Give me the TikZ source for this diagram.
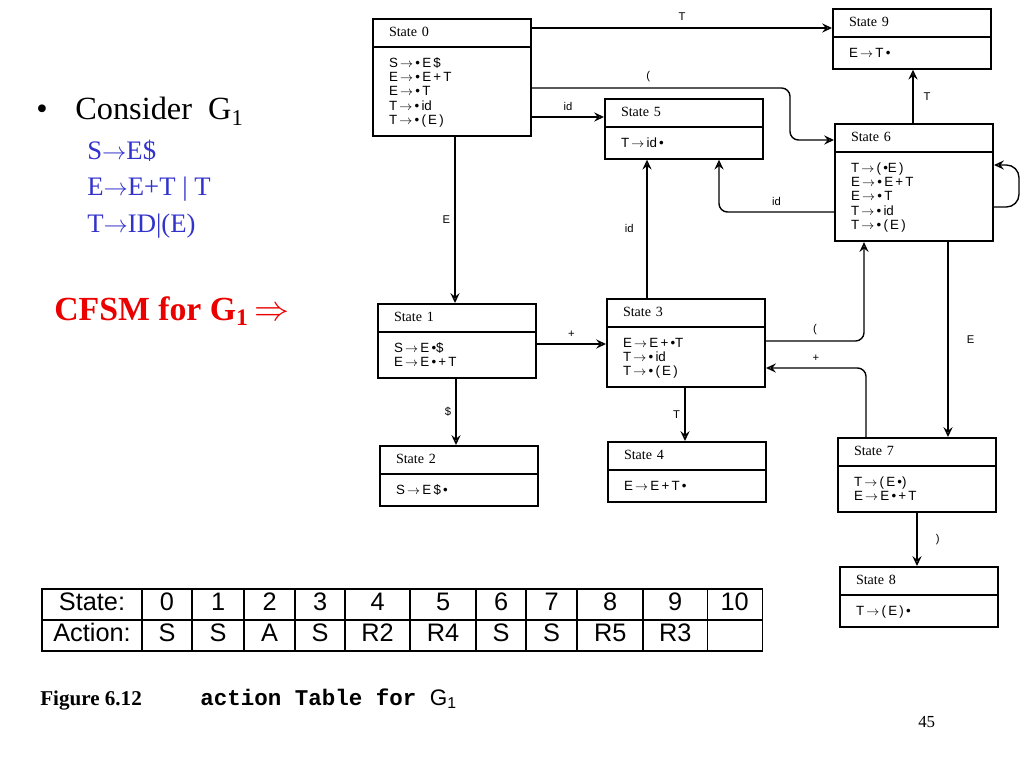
\documentclass[tikz,border=0pt]{standalone}
\usepackage{fontspec}
\setmainfont{Liberation Serif}
\setsansfont{Liberation Sans}
\setmonofont{Liberation Mono}
\usepackage{array}
\usetikzlibrary{shapes.multipart, arrows.meta}
\definecolor{gramblue}{RGB}{51,51,204}
\definecolor{cfsmred}{RGB}{235,0,0}
\newcommand{\itemfont}{\sffamily\fontsize{9.5}{10.2}\selectfont\lineskiplimit=-\maxdimen}
\newcommand{\yields}{\,$\rightarrow$\,}
\newcommand{\dotmark}{\textbullet}
\newcommand{\sthead}[1]{\rule[-2pt]{0pt}{8pt}State #1}
\newcommand{\stitems}[1]{\itemfont\rule{0pt}{8.5pt}#1\rule[-2.5pt]{0pt}{2.5pt}\par}
\newcolumntype{C}[1]{>{\centering\arraybackslash}p{#1}}
\renewcommand{\arraystretch}{1}
\setlength{\tabcolsep}{0pt}
\setlength{\arrayrulewidth}{1pt}
\tikzset{
        state/.style={rectangle split, rectangle split parts=2, draw=black, line width=0.5mm,
          text width=3.15cm, inner xsep=0.4cm, inner ysep=5pt, align=left, anchor=north west,
          font=\rmfamily\fontsize{10}{12}\selectfont},
        conn/.style={line width=0.35mm, -{Stealth[open,length=7pt,width=6.5pt,inset=2.5pt]}},
        lbl/.style={font=\sffamily\fontsize{8}{10}\selectfont, inner sep=1pt},
        gram/.style={text=gramblue, anchor=base west, inner sep=0pt, font=\rmfamily\fontsize{19}{22}\selectfont},
        plain/.style={anchor=base west, inner sep=0pt}
          }
\begin{document}
\begin{tikzpicture}[x=0.025cm, y=-0.025cm]
        \useasboundingbox (0,0) rectangle (1024,768);
        % left column text
        \node[plain, font=\rmfamily\fontsize{23}{26}\selectfont] (bul) at (36,120) {\textbullet};
        \node[plain, font=\rmfamily\fontsize{23}{26}\selectfont] (consider) at (75,120) {Consider~~G\textsubscript{1}};
        \node[gram] (g1) at (87,159) {S$\rightarrow$E\$};
        \node[gram] (g2) at (87,195) {E$\rightarrow$E+T | T};
        \node[gram] (g3) at (87,232) {T$\rightarrow$ID|(E)};
        \node[plain, text=cfsmred, font=\rmfamily\bfseries\fontsize{24}{28}\selectfont] (cfsm) at (54,320)
          {CFSM for G\textsubscript{1}\,$\Rightarrow$};

        % the states
        \node[state] (state0) at (372,18) {\sthead{0}\nodepart{two}\stitems{%
          S\yields\dotmark\,E\,\$\\ E\yields\dotmark\,E\,+\,T\\ E\yields\dotmark\,T\\ T\yields\dotmark\,id\\ T\yields\dotmark\,(\,E\,)}};
        \node[state] (state9) at (832,8) {\sthead{9}\nodepart{two}\stitems{E\yields T\,\dotmark}};
        \node[state] (state5) at (604,98) {\sthead{5}\nodepart{two}\stitems{T\yields id\,\dotmark}};
        \node[state] (state6) at (834,123) {\sthead{6}\nodepart{two}\stitems{%
          T\yields(\,\dotmark E\,)\\ E\yields\dotmark\,E\,+\,T\\ E\yields\dotmark\,T\\ T\yields\dotmark\,id\\ T\yields\dotmark\,(\,E\,)}};
        \node[state] (state1) at (377,303) {\sthead{1}\nodepart{two}\stitems{%
          S\yields E\,\dotmark\$\\ E\yields E\,\dotmark\,+\,T}};
        \node[state] (state3) at (606,298) {\sthead{3}\nodepart{two}\stitems{%
          E\yields E\,+\,\dotmark T\\ T\yields\dotmark\,id\\ T\yields\dotmark\,(\,E\,)}};
        \node[state] (state2) at (379,445) {\sthead{2}\nodepart{two}\stitems{S\yields E\,\$\,\dotmark}};
        \node[state] (state4) at (607,441) {\sthead{4}\nodepart{two}\stitems{E\yields E\,+\,T\,\dotmark}};
        \node[state] (state7) at (837,437) {\sthead{7}\nodepart{two}\stitems{%
          T\yields(\,E\,\dotmark)\\ E\yields E\,\dotmark\,+\,T}};
        \node[state] (state8) at (839,566) {\sthead{8}\nodepart{two}\stitems{T\yields(\,E\,)\,\dotmark}};

        % transitions
        \draw[conn] (state0.east |- 0,28) -- node[lbl, above=4pt] {T} (state9.west |- 0,28);
        \draw[conn, rounded corners=6pt] (state0.east |- 0,88) -- node[lbl, above=3pt, pos=0.45] {(} (790,88)
          -- (790,140) -- (state6.west |- 0,140);
        \draw[conn] (state0.east |- 0,117) -- node[lbl, above=3pt] {id} (state5.west |- 0,117);
        \draw[conn] (state0.south -| 455,0) -- node[lbl, left=2pt] {E} (state1.north -| 455,0);
        \draw[conn] (state3.north -| 647,0) -- node[lbl, left=8pt] {id} (state5.south -| 647,0);
        \draw[conn, rounded corners=6pt] (state6.west |- 0,212) -- node[lbl, above=3pt] {id} (719,212)
          -- (state5.south -| 719,0);
        \draw[conn] (state6.north -| 913,0) -- node[lbl, right=6pt] {T} (state9.south -| 913,0);
        \draw[conn, rounded corners=9pt] (state6.east |- 0,207) -- (1019,207) -- (1019,165)
          -- (state6.east |- 0,165);
        \draw[conn] (state1.east |- 0,344) -- node[lbl, above=3pt] {+} (state3.west |- 0,344);
        \draw[conn] (state1.south -| 456,0) -- node[lbl, left=2pt] {\$} (state2.north -| 456,0);
        \draw[conn] (state3.south -| 685,0) -- node[lbl, left=2pt] {T} (state4.north -| 685,0);
        \draw[conn, rounded corners=6pt] (state3.east |- 0,341) -- node[lbl, above=3pt] {(} (864,341)
          -- (state6.south -| 864,0);
        \draw[conn, rounded corners=6pt] (state7.north -| 866,0) -- (866,368)
          -- node[lbl, above=3pt] {+} (state3.east |- 0,368);
        \draw[conn] (state6.south -| 948,0) -- node[lbl, right=12pt] {E} (state7.north -| 948,0);
        \draw[conn] (state7.south -| 917,0) -- node[lbl, right=12pt] {)} (state8.north -| 917,0);

        % action table and caption
        \node[anchor=north west, inner sep=0pt, font=\sffamily\fontsize{18}{21}\selectfont] (acttable) at (41,588) {%
          \begin{tabular}{|C{2.465cm}|C{1.215cm}|C{1.265cm}|C{1.24cm}|C{1.215cm}|C{1.59cm}|C{1.615cm}|C{1.215cm}|C{1.24cm}|C{1.615cm}|C{1.565cm}|C{1.34cm}|}
          \hline
          State: & 0 & 1 & 2 & 3 & 4 & 5 & 6 & 7 & 8 & 9 & 10\\ \hline
          Action: & S & S & A & S & R2 & R4 & S & S & R5 & R3 & \\ \hline
          \end{tabular}};
        \node[plain, font=\rmfamily\bfseries\fontsize{15}{18}\selectfont] (figno) at (40,705) {Figure 6.12};
        \node[plain, font=\ttfamily\bfseries\fontsize{16}{18}\selectfont] (figcap) at (200,705)
          {action Table for {\sffamily\mdseries G\textsubscript{1}}};
        \node[plain, font=\rmfamily\fontsize{12}{14}\selectfont] (pgno) at (918,727) {45};
      \end{tikzpicture}
\end{document}
